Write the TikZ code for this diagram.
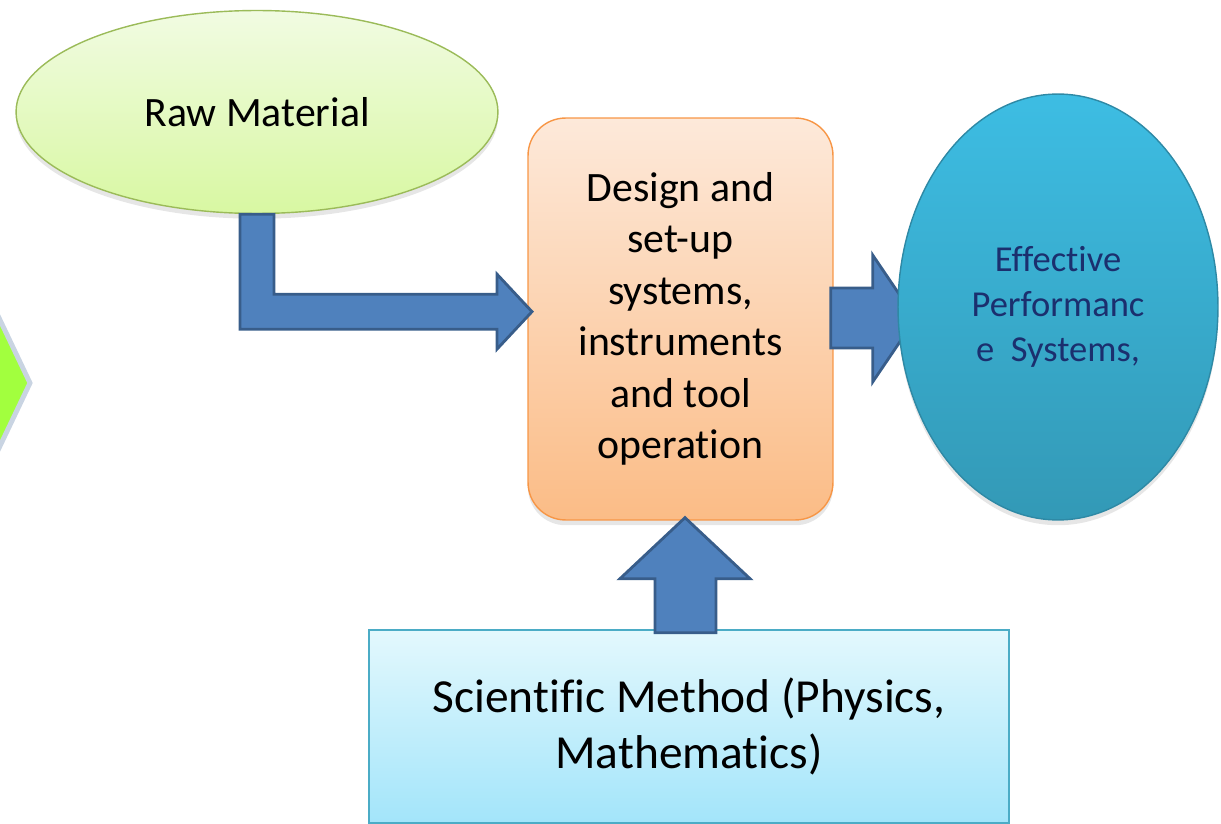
\documentclass[tikz,border=0pt]{standalone}
\usepackage{fontspec}
\setmainfont[Ligatures=NoCommon]{Carlito}
\usetikzlibrary{shapes.geometric,calc,shadows}

\definecolor{arrowfill}{HTML}{4F81BD}
\definecolor{arrowline}{HTML}{385D8A}
\definecolor{rawtop}{HTML}{F1FBE2}
\definecolor{rawbot}{HTML}{D8F8A2}
\definecolor{rawline}{HTML}{9BBB59}
\definecolor{designtop}{HTML}{FDE9DA}
\definecolor{designbot}{HTML}{FBBC86}
\definecolor{designline}{HTML}{F79646}
\definecolor{efftop}{HTML}{3DBDE3}
\definecolor{effbot}{HTML}{3399B6}
\definecolor{effline}{HTML}{2E89A5}
\definecolor{efftext}{HTML}{1B2F6E}
\definecolor{scitop}{HTML}{E3F8FD}
\definecolor{scibot}{HTML}{A3E5FA}
\definecolor{sciline}{HTML}{4BACC6}
\definecolor{chevfill}{HTML}{A2FF3E}
\definecolor{chevline}{HTML}{C9D4E2}

\begin{document}
\begin{tikzpicture}[x=0.02cm, y=-0.02cm,
  bigarrow/.style={fill=arrowfill, draw=arrowline, line width=1.6pt, line join=miter},
  softshadow/.style={drop shadow={shadow xshift=0pt, shadow yshift=-3pt, opacity=0.2}}]
\useasboundingbox (0,0) rectangle (1221,824);

% green chevron at the left edge
\draw[fill=chevfill, draw=chevline, line width=2.8pt, line join=miter] (-60,194) -- (30,383) -- (-60,572) -- cycle;

% boxes
\node[ellipse, minimum width=9.64cm, minimum height=4.06cm, inner sep=0pt,
  top color=rawtop, bottom color=rawbot, draw=rawline, line width=0.8pt, softshadow,
  font=\fontsize{23.8}{29}\selectfont] (raw) at (257,112) {Raw Material};
\node[rectangle, rounded corners=0.75cm, minimum width=6.1cm, minimum height=8.04cm, inner sep=0pt,
  top color=designtop, bottom color=designbot, draw=designline, line width=0.8pt, softshadow,
  align=center, font=\fontsize{23.8}{29.3}\selectfont] (design) at (680.5,319)
  {Design and\\set-up\\systems,\\instruments\\and tool\\operation};
\node[rectangle, minimum width=12.8cm, minimum height=3.86cm, inner sep=0pt,
  top color=scitop, bottom color=scibot, draw=sciline, line width=0.8pt,
  align=center, font=\fontsize{27}{32.3}\selectfont] (sci) at (689,726.5)
  {Scientific Method (Physics,\\Mathematics)};

% block arrows
\draw[bigarrow] ($(raw.south)+(-17,0)$) -- ++(34,0) -- ++(0,80) -- ++(223,0) -- ++(0,-20)
  -- ++(35,37.5) -- ++(-35,37.5) -- ++(0,-20) -- ++(-257,0) -- cycle;
\draw[bigarrow] ($(design.east)+(-3,-31)$) -- ++(42,0) -- ++(0,-33) -- ++(43,63.5)
  -- ++(-43,63.5) -- ++(0,-34) -- ++(-42,0) -- cycle;
\draw[bigarrow] ($(design.south)+(4.5,-3)$) -- ++(65,61) -- ++(-34,0) -- ++(0,54)
  -- ++(-61,0) -- ++(0,-54) -- ++(-35,0) -- cycle;

\node[ellipse, minimum width=6.4cm, minimum height=8.52cm, inner sep=0pt,
  top color=efftop, bottom color=effbot, draw=effline, line width=0.8pt, softshadow,
  align=center, text=efftext, font=\fontsize{20.8}{25.5}\selectfont] (eff) at (1058,307)
  {Effective\\Performanc\\e\ \ Systems,};
\end{tikzpicture}
\end{document}
